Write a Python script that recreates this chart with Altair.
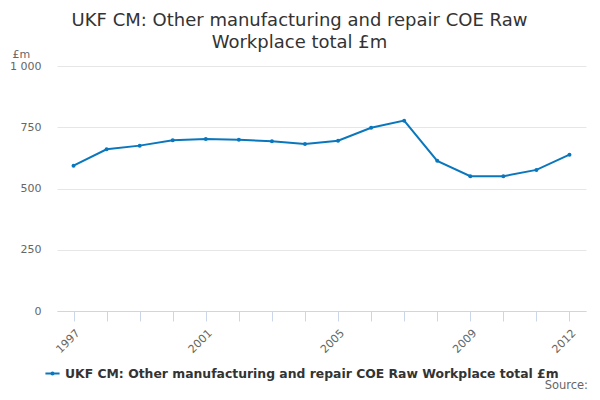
import pandas as pd
import altair as alt

years = list(range(1997, 2013))
values = [593, 660, 675, 697, 702, 699, 693, 682, 695, 748, 777, 613, 550, 550, 576, 638]
series_name = "UKF CM: Other manufacturing and repair COE Raw Workplace total £m"
labelled_years = [1997, 2001, 2005, 2009, 2012]
y_ticks = [0, 250, 500, 750, 1000]
title_lines = ["UKF CM: Other manufacturing and repair COE Raw", "Workplace total £m"]

df = pd.DataFrame({"year": years, "value": values, "series": series_name})

FONT = "DejaVu Sans"
BLUE = "#0a77bd"
AXIS_GREY = "#ccd6eb"

shown = ",".join(str(y) for y in labelled_years)

# line with a small dot in the middle, like the original legend
legend_symbol = "M-1,0L1,0M-0.15,0a0.15,0.15 0 1,0 0.3,0a0.15,0.15 0 1,0 -0.3,0"

line = alt.Chart(df).mark_line(
    strokeWidth=2,
    point=alt.OverlayMarkDef(size=16, filled=True),
).encode(
    x=alt.X("year:Q",
            scale=alt.Scale(domain=[1996.5, 2012.5], nice=False, zero=False),
            axis=alt.Axis(values=years, format="d", title=None, grid=False,
                          labelExpr=f"indexof([{shown}], datum.value) >= 0 ? datum.label : ''",
                          labelOverlap=False, labelFlush=False,
                          labelAngle=-45, labelAlign="right", labelBaseline="top",
                          labelPadding=6, labelFontSize=11, labelColor="#666666", labelFont=FONT,
                          domainColor=AXIS_GREY, tickColor=AXIS_GREY, tickSize=10)),
    y=alt.Y("value:Q",
            scale=alt.Scale(domain=[0, 1000], nice=False),
            axis=alt.Axis(values=y_ticks,
                          labelExpr="replace(format(datum.value, ','), ',', ' ')",
                          domain=False, ticks=False, labelPadding=16,
                          labelFontSize=11, labelColor="#666666", labelFont=FONT,
                          gridColor="#e6e6e6",
                          title="£m", titleAngle=0, titleX=-45, titleY=-9,
                          titleAlign="left", titleBaseline="alphabetic",
                          titleFontWeight="normal", titleFontSize=11, titleColor="#666666",
                          titleFont=FONT)),
    color=alt.Color("series:N",
                    scale=alt.Scale(domain=[series_name], range=[BLUE]),
                    legend=alt.Legend(orient="none", legendX=-13, legendY=299, title=None,
                                      symbolType=legend_symbol, symbolStrokeWidth=2,
                                      symbolSize=200, labelFontSize=12.4,
                                      labelFontWeight="bold", labelColor="#333333",
                                      labelFont=FONT, labelLimit=700)),
)

source = alt.Chart(pd.DataFrame({"note": ["Source:"]})).mark_text(
    align="right", baseline="alphabetic", fontSize=11.5, color="#666666", font=FONT
).encode(text="note:N", x=alt.value(531), y=alt.value(323))

chart = alt.layer(line, source).properties(
    width=529,
    height=245,
    background="white",
    autosize=alt.AutoSizeParams(type="none"),
    padding={"left": 49, "top": 58, "right": 6, "bottom": 81},
    title=alt.TitleParams(text=title_lines, fontSize=18, font=FONT, fontWeight="normal",
                          color="#333333", anchor="middle", dx=-22, lineHeight=22,
                          offset=-4),
).configure_view(stroke=None)

chart.save("out.html", embed_options={"renderer": "svg", "actions": False})
